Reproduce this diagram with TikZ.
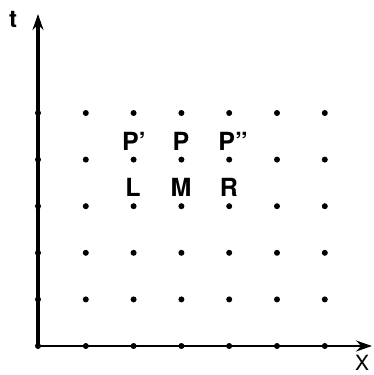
\documentclass[tikz,border=0pt]{standalone}
\usepackage{fontspec}
\setsansfont{TeX Gyre Heros}
\usepackage{tikz}
\usetikzlibrary{positioning, arrows.meta, calc}

\begin{document}
\begin{tikzpicture}[
  x=1pt, y=-1pt,
  font=\sffamily\fontsize{24}{24}\selectfont,
  axis/.style={line width=3.4pt, -{Stealth[length=16pt, width=11pt]}},
  gridpt/.style={circle, fill=black, inner sep=0pt, minimum size=6pt},
  lbl/.style={inner sep=0pt},
]
  \useasboundingbox (0,0) rectangle (374,375);
  % axes
  \coordinate (o)    at (38,346);
  \coordinate (ttip) at (38,14);
  \coordinate (xtip) at (372,346);
  \draw[axis] (o) -- (ttip);
  \draw[axis, line width=2.6pt] (o) -- (xtip);
  \node[lbl, font=\sffamily\bfseries\fontsize{24}{24}\selectfont] (t) at (13,19) {t};
  \node[lbl, font=\sffamily\fontsize{21}{21}\selectfont] (x) at (362,363) {X};
  % lattice points
  \foreach \i in {0,...,6}
    \foreach \j in {0,...,5}
      \node[gridpt] (p-\i-\j) at ({38+47.8*\i},{346-46.6*\j}) {};
  % labels
  \begin{scope}[every node/.append style={lbl, font=\sffamily\bfseries\fontsize{25}{25}\selectfont}]
    \node (pl) at (134,141) {P'};
    \node (pm) at (181,141) {P};
    \node (pr) at (233,141) {P''};
    \node (l)  at (133,187) {L};
    \node (m)  at (181,187) {M};
    \node (r)  at (229,187) {R};
  \end{scope}
\end{tikzpicture}
\end{document}
